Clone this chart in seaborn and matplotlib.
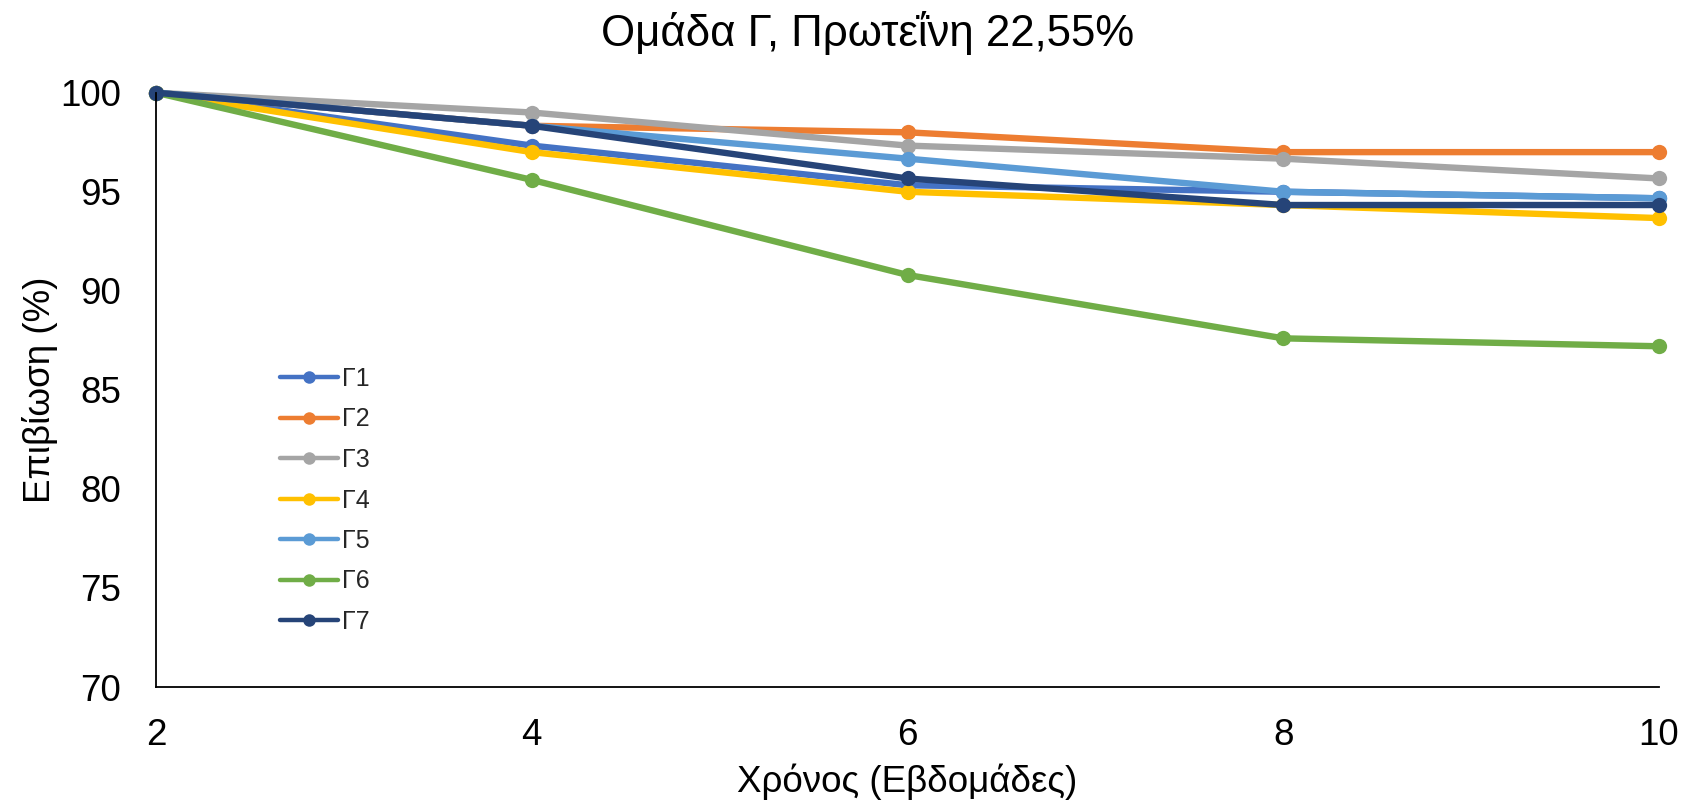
import matplotlib
matplotlib.use("Agg")
import matplotlib.pyplot as plt
from matplotlib.lines import Line2D
import seaborn as sns
import pandas as pd

# Survival (%) per tank of group Γ over the trial weeks
weeks = [2, 4, 6, 8, 10]
series_names = ["Γ1", "Γ2", "Γ3", "Γ4", "Γ5", "Γ6", "Γ7"]
g1 = [100, 97.33, 95.33, 95.00, 94.67]
g2 = [100, 98.33, 98.00, 97.00, 97.00]
g3 = [100, 99.00, 97.33, 96.67, 95.67]
g4 = [100, 97.00, 95.00, 94.33, 93.67]
g5 = [100, 98.33, 96.67, 95.00, 94.67]
g6 = [100, 95.60, 90.80, 87.60, 87.20]
g7 = [100, 98.33, 95.67, 94.33, 94.33]
series_values = [g1, g2, g3, g4, g5, g6, g7]
colors = ["#4472C4", "#ED7D31", "#A5A5A5", "#FFC000", "#5B9BD5", "#70AD47", "#264478"]

y_ticks = [70, 75, 80, 85, 90, 95, 100]
x_ticks = [2, 4, 6, 8, 10]

title = "Ομάδα Γ, Πρωτεΐνη 22,55%"
x_label = "Χρόνος (Εβδομάδες)"
y_label = "Επιβίωση (%)"

df = pd.DataFrame(
    [(w, v, name) for name, vals in zip(series_names, series_values) for w, v in zip(weeks, vals)],
    columns=["week", "survival", "tank"],
)

sns.set_theme(style="white")
plt.rcParams["font.family"] = ["Liberation Sans", "DejaVu Sans"]

fig = plt.figure(figsize=(16.91, 8.06), dpi=100)
ax = fig.add_axes([156 / 1691, 1 - 687 / 806, (1659 - 156) / 1691, (687 - 92.7) / 806])

palette = dict(zip(series_names, colors))
sns.lineplot(
    data=df, x="week", y="survival", hue="tank", hue_order=series_names,
    palette=palette, marker="o", markersize=11, markeredgewidth=0,
    linewidth=4.6, legend=False, ax=ax, clip_on=False, sort=False,
)
for ln in ax.get_lines():
    ln.set_solid_capstyle("round")
    ln.set_clip_on(False)

ax.set_xlim(2, 10)
ax.set_ylim(70, 100)
ax.set_xticks(x_ticks)
ax.set_yticks(y_ticks)
ax.tick_params(axis="both", length=0, labelsize=26.5, colors="black")
ax.tick_params(axis="y", pad=25)
ax.tick_params(axis="x", pad=22)

for side in ("top", "right"):
    ax.spines[side].set_visible(False)
for side in ("left", "bottom"):
    ax.spines[side].set_color("black")
    ax.spines[side].set_linewidth(1.3)

ax.set_xlabel(x_label, fontsize=26.5, color="black")
ax.set_ylabel(y_label, fontsize=26.5, color="black")
ax.xaxis.set_label_coords(0.5, (687 - 782) / 594.3)
ax.xaxis.label.set_va("center")
ax.yaxis.set_label_coords((40 - 156) / 1503, 0.5)
ax.yaxis.label.set_va("center")

fig.text(868 / 1691, 1 - 33 / 806, title, fontsize=31.5, ha="center", va="center", color="black")

handles = [
    Line2D([0], [0], color=c, linewidth=3.2, marker="o", markersize=9,
           markeredgewidth=0, solid_capstyle="round")
    for c in colors
]
ax.legend(
    handles, series_names, loc="upper left",
    bbox_to_anchor=(280 / 1691, 1 - 367 / 806), bbox_transform=fig.transFigure,
    frameon=False, fontsize=18, handlelength=2.3, handletextpad=0.2,
    labelspacing=0.66, borderpad=0, borderaxespad=0,
)

fig.savefig("out.png", dpi=100, facecolor="white")
